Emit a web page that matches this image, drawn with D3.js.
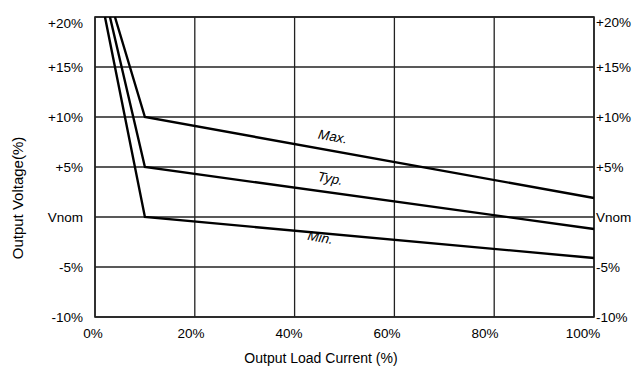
<!DOCTYPE html>
<html>
<head>
<meta charset="utf-8">
<style>
  body { margin: 0; background: #fff; }
  svg { font-family: "Liberation Sans", Arial, sans-serif; }
</style>
</head>
<body>
<svg id="chart"></svg>
<script src="https://cdn.jsdelivr.net/npm/d3@7/dist/d3.min.js"></script>
<script>
// data
var xTicks = [0, 20, 40, 60, 80, 100];
var yTicks = [-10, -5, 0, 5, 10, 15, 20];
var yTickLabels = ["-10%", "-5%", "Vnom", "+5%", "+10%", "+15%", "+20%"];

var maxLoad = [4, 10, 100];
var maxVolt = [20, 10, 1.9];
var typLoad = [3, 10, 100];
var typVolt = [20, 5, -1.2];
var minLoad = [2, 10, 100];
var minVolt = [20, 0, -4.1];

var curveNames = ["Max.", "Typ.", "Min."];
var labelAt = [[47.5, 7.6], [47, 3.4], [45, -2.5]];

var W = 634, H = 373;
var margin = {left: 95, right: 40, top: 17, bottom: 56};

var svg = d3.select("#chart").attr("width", W).attr("height", H);

var x = d3.scaleLinear().domain([0, 100]).range([margin.left, W - margin.right]);
var y = d3.scaleLinear().domain([-10, 20]).range([H - margin.bottom, margin.top]);

// grid
svg.append("g").selectAll("line.v")
  .data(xTicks).enter().append("line")
  .attr("x1", function(d){ return x(d); })
  .attr("x2", function(d){ return x(d); })
  .attr("y1", y(-10)).attr("y2", y(20))
  .attr("stroke", "#222").attr("stroke-width", 1.3);

svg.append("g").selectAll("line.h")
  .data(yTicks).enter().append("line")
  .attr("x1", x(0)).attr("x2", x(100))
  .attr("y1", function(d){ return y(d); })
  .attr("y2", function(d){ return y(d); })
  .attr("stroke", "#222").attr("stroke-width", 1.3);

// frame
svg.append("rect")
  .attr("x", x(0)).attr("y", y(20))
  .attr("width", x(100) - x(0)).attr("height", y(-10) - y(20))
  .attr("fill", "none").attr("stroke", "#222").attr("stroke-width", 1.6);

// curves
var line = d3.line()
  .x(function(d){ return x(d[0]); })
  .y(function(d){ return y(d[1]); });

[[maxLoad, maxVolt], [typLoad, typVolt], [minLoad, minVolt]].forEach(function(s){
  svg.append("path")
    .datum(d3.zip(s[0], s[1]))
    .attr("d", line)
    .attr("fill", "none")
    .attr("stroke", "#000")
    .attr("stroke-width", 2.4)
    .attr("stroke-linejoin", "miter");
});

// curve labels
curveNames.forEach(function(n, i){
  var px = x(labelAt[i][0]), py = y(labelAt[i][1]);
  svg.append("text")
    .attr("transform", "translate(" + px + "," + py + ") rotate(10)")
    .attr("text-anchor", "middle")
    .attr("font-size", 13.5)
    .attr("font-style", "italic")
    .text(n);
});

// y tick labels, both sides
svg.append("g").selectAll("text")
  .data(yTicks).enter().append("text")
  .attr("x", x(0) - 12)
  .attr("y", function(d){ return y(d) + (d == 20 ? 6 : 0); })
  .attr("dy", "0.35em")
  .attr("text-anchor", "end")
  .attr("font-size", 13.5)
  .text(function(d, i){ return yTickLabels[i]; });

svg.append("g").selectAll("text")
  .data(yTicks).enter().append("text")
  .attr("x", x(100) + 2)
  .attr("y", function(d){ return y(d) + (d == 20 ? 5 : 0); })
  .attr("dy", "0.35em")
  .attr("text-anchor", "start")
  .attr("font-size", 13.5)
  .text(function(d, i){ return yTickLabels[i]; });

// x tick labels
svg.append("g").selectAll("text")
  .data(xTicks).enter().append("text")
  .attr("x", function(d){ return x(d) - 2 - d * 0.09; })
  .attr("y", y(-10) + 21)
  .attr("text-anchor", "middle")
  .attr("font-size", 13.5)
  .text(function(d){ return d + "%"; });

// axis titles
svg.append("text")
  .attr("x", 321).attr("y", 363)
  .attr("text-anchor", "middle")
  .attr("font-size", 14)
  .text("Output Load Current (%)");

svg.append("text")
  .attr("transform", "translate(23,198) rotate(-90)")
  .attr("text-anchor", "middle")
  .attr("font-size", 15)
  .text("Output Voltage(%)");
</script>
</body>
</html>
